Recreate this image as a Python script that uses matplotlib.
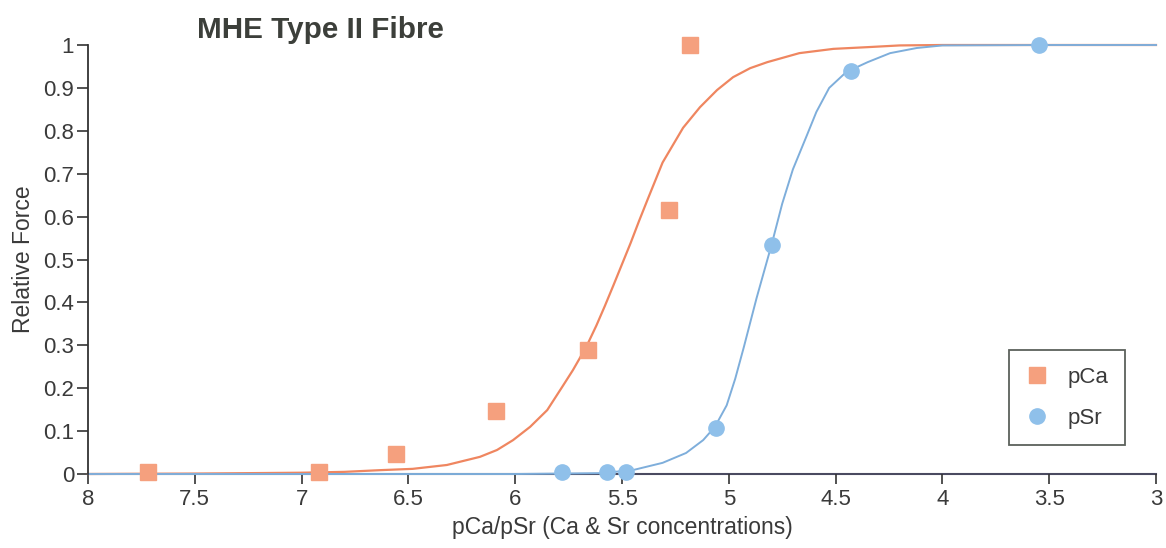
import matplotlib
matplotlib.use("Agg")
import matplotlib.pyplot as plt

plt.rcParams['font.family'] = ['Liberation Sans', 'DejaVu Sans']

# measured data points
pca_x = [7.72, 6.92, 6.56, 6.09, 5.66, 5.28, 5.18]
pca_y = [0.005, 0.005, 0.047, 0.147, 0.29, 0.615, 1.0]
psr_x = [5.78, 5.57, 5.48, 5.06, 4.80, 4.43, 3.55]
psr_y = [0.005, 0.005, 0.005, 0.107, 0.534, 0.94, 1.0]

# fitted curves
pca_fit_x = [8.0, 7.5, 7.0, 6.8, 6.63, 6.48, 6.32, 6.165, 6.085, 6.01, 5.93,
             5.85, 5.78, 5.73, 5.70, 5.66, 5.62, 5.58, 5.54, 5.50, 5.46, 5.42,
             5.38, 5.31, 5.214, 5.135, 5.055, 4.98, 4.90, 4.82, 4.67, 4.51,
             4.35, 4.20, 4.0, 3.5, 3.0]
pca_fit_y = [0.0, 0.001, 0.003, 0.005, 0.009, 0.012, 0.021, 0.040, 0.056,
             0.079, 0.11, 0.149, 0.203, 0.242, 0.268, 0.304, 0.346, 0.392, 0.440,
             0.489, 0.538, 0.590, 0.640, 0.726, 0.807, 0.855, 0.895, 0.925,
             0.946, 0.960, 0.981, 0.991, 0.995, 0.999, 1.0, 1.0, 1.0]
psr_fit_x = [8.0, 7.0, 6.0, 5.6, 5.45, 5.31, 5.20, 5.12, 5.065, 5.01, 4.97,
             4.93, 4.87, 4.80, 4.75, 4.70, 4.634, 4.59, 4.53, 4.45, 4.35,
             4.245, 4.12, 4.0, 3.5, 3.0]
psr_fit_y = [0.0, 0.0, 0.0, 0.002, 0.009, 0.026, 0.049, 0.079, 0.11, 0.160,
             0.222, 0.295, 0.41, 0.534, 0.63, 0.71, 0.79, 0.844, 0.90, 0.937,
             0.96, 0.981, 0.993, 0.999, 1.0, 1.0]

x_ticks = [8, 7.5, 7, 6.5, 6, 5.5, 5, 4.5, 4, 3.5, 3]
x_tick_labels = ['8', '7.5', '7', '6.5', '6', '5.5', '5', '4.5', '4', '3.5', '3']
y_ticks = [0, 0.1, 0.2, 0.3, 0.4, 0.5, 0.6, 0.7, 0.8, 0.9, 1]
y_tick_labels = ['0', '0.1', '0.2', '0.3', '0.4', '0.5', '0.6', '0.7', '0.8', '0.9', '1']

orange_pt = '#f5a07e'
orange_ln = '#ef8660'
blue_pt = '#8fc0ea'
blue_ln = '#7eaedb'
txt = '#3a3a3a'

fig = plt.figure(figsize=(11.66, 5.48), dpi=100)
ax = fig.add_axes([88/1166, 74/548, 1068/1166, 429/548])

ax.plot(pca_fit_x, pca_fit_y, color=orange_ln, lw=1.6, zorder=2, clip_on=False,
        solid_joinstyle='round')
ax.plot(psr_fit_x, psr_fit_y, color=blue_ln, lw=1.4, zorder=2, clip_on=False,
        solid_joinstyle='round')
ax.plot(pca_x, pca_y, 's', color=orange_pt, ms=11, mec=orange_pt, zorder=3,
        clip_on=False, label='pCa')
ax.plot(psr_x, psr_y, 'o', color=blue_pt, ms=11, mec=blue_pt, zorder=3,
        clip_on=False, label='pSr')

ax.set_xlim(8, 3)
ax.set_ylim(0, 1)
ax.set_xticks(x_ticks)
ax.set_xticklabels(x_tick_labels)
ax.set_yticks(y_ticks)
ax.set_yticklabels(y_tick_labels)

for s in ['top', 'right']:
    ax.spines[s].set_visible(False)
ax.spines['left'].set_color('#333333')
ax.spines['left'].set_linewidth(1.3)
ax.spines['bottom'].set_color('#4a4a60')
ax.spines['bottom'].set_linewidth(1.5)
ax.spines['bottom'].set_zorder(1)

ax.tick_params(axis='y', direction='out', length=8, width=1.2, colors='#333333',
               labelsize=16, labelcolor=txt, pad=2)
ax.tick_params(axis='x', direction='out', length=7, width=1.2, colors='#333333',
               labelsize=16, labelcolor=txt, pad=4)

ax.set_xlabel('pCa/pSr (Ca & Sr concentrations)', fontsize=16.5, color=txt, labelpad=4)
ax.set_ylabel('Relative Force', fontsize=16.5, color=txt, labelpad=6)

fig.text(197/1166, 1 - 30/548, 'MHE Type II Fibre', fontsize=21.3, fontweight='bold',
         color='#3c3f3a', ha='left', va='center')

leg = ax.legend(loc='upper left', bbox_to_anchor=(1009/1166, 1 - 350/548),
                bbox_transform=fig.transFigure, frameon=True, fancybox=False,
                fontsize=16, handlelength=1.0, handletextpad=0.9,
                borderpad=0.75, labelspacing=0.9, borderaxespad=0)
leg.get_frame().set_edgecolor('#333a33')
leg.get_frame().set_linewidth(1.3)
for t in leg.get_texts():
    t.set_color(txt)

fig.savefig('out.png', dpi=100)
